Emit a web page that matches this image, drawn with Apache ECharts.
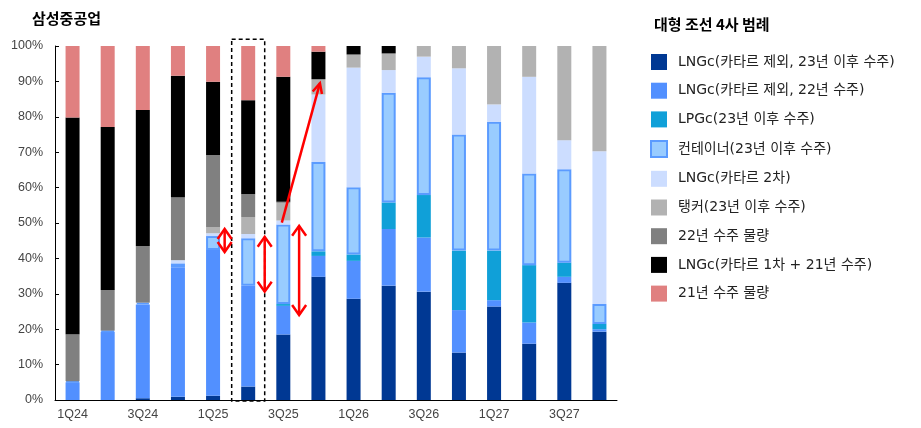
<!DOCTYPE html>
<html><head><meta charset="utf-8">
<script src="https://cdn.jsdelivr.net/npm/echarts@6/dist/echarts.min.js"></script>
<style>html,body{margin:0;padding:0;background:#fff}#c{width:921px;height:428px}</style>
</head><body><div id="c"></div>
<script>
const categories = ['1Q24','2Q24','3Q24','4Q24','1Q25','2Q25','3Q25','4Q25','1Q26','2Q26','3Q26','4Q26','1Q27','2Q27','3Q27','4Q27'];
const yTicks = [0,10,20,30,40,50,60,70,80,90,100];
const seriesNames = ['LNGc(카타르 제외, 23년 이후 수주)','LNGc(카타르 제외, 22년 수주)','LPGc(23년 이후 수주)','컨테이너(23년 이후 수주)','LNGc(카타르 2차)','탱커(23년 이후 수주)','22년 수주 물량','LNGc(카타르 1차 + 21년 수주)','21년 수주 물량'];
const lngEx23 = [0,0,0.5,0.9,1.2,3.8,18.5,34.8,28.6,32.3,30.6,13.4,26.4,15.9,33.1,19.3];
const lngEx22 = [5.0,19.3,26.5,36.6,41.2,28.5,8.1,5.9,10.7,16.0,15.3,12.0,1.8,6.0,1.7,0.7];
const lpg = [0,0,0,0,0,0,0.5,1.3,1.8,7.5,12.0,16.8,14.0,16.2,4.0,1.5];
const container = [0.3,0.3,0.5,1.1,3.9,13.4,22.5,25.2,19.0,31.0,33.3,32.8,36.4,25.9,26.4,5.6];
const qatar2 = [0,0,0,0.9,0.8,1.2,1.1,19.1,33.8,6.4,5.8,18.7,4.9,27.3,8.2,43.2];
const tanker = [0,0,0,0,1.8,4.8,5.0,4.3,3.7,4.7,3.0,6.3,16.5,8.7,26.6,29.7];
const order22 = [13.3,11.5,16.0,17.8,20.3,6.4,0.3,0,0,0,0,0,0,0,0,0];
const qatar1 = [61.2,46.0,38.4,34.3,20.7,26.6,35.3,7.8,2.4,2.1,0,0,0,0,0,0];
const order21 = [20.2,22.9,18.1,8.4,10.1,15.3,8.7,1.6,0,0,0,0,0,0,0,0];

const values = [lngEx23,lngEx22,lpg,container,qatar2,tanker,order22,qatar1,order21];
const colors = ['#003893','#5290FF','#10A0D8','#99CCFF','#CCDDFF','#B2B2B2','#808080','#000000','#E08080'];
const FONT = '"Noto Sans CJK KR", "Noto Sans", sans-serif';
const LFONT = '"DejaVu Sans", "Noto Sans CJK KR", sans-serif';

const series = seriesNames.map((n,i)=>({
  name:n, type:'bar', stack:'s', barWidth:14, data:values[i],
  itemStyle: i===3 ? {color:colors[i], borderColor:'#5B9BFF', borderWidth:2} : {color:colors[i]},
  emphasis:{disabled:true}
}));

const chart = echarts.init(document.getElementById('c'));
chart.setOption({
  animation:false,
  textStyle:{fontFamily:FONT},
  title:[
    {text:'삼성중공업', left:27, top:6, textStyle:{fontSize:15, fontWeight:'bold', color:'#000', fontFamily:FONT}},
    {text:'대형 조선 4사 범례', left:649, top:12, textStyle:{fontSize:15, fontWeight:'bold', color:'#000', fontFamily:FONT}}
  ],
  legend:{
    orient:'vertical', left:645, top:49, itemWidth:16, itemHeight:16, itemGap:12.7, icon:'rect',
    textStyle:{fontSize:14, color:'#222', fontFamily:LFONT, padding:[0,0,0,6]},
    data:seriesNames
  },
  grid:{left:55, right:304, top:46, bottom:28, containLabel:false},
  xAxis:{
    type:'category', data:categories,
    axisLine:{lineStyle:{color:'#000', width:1}},
    axisTick:{inside:true, length:3, interval:1, lineStyle:{color:'#000'}},
    axisLabel:{interval:1, color:'#444', fontSize:12.5, margin:8, fontFamily:'"Liberation Sans", sans-serif'}
  },
  yAxis:{
    type:'value', min:0, max:100, interval:10,
    splitLine:{show:false},
    axisLine:{show:true, lineStyle:{color:'#000', width:1}},
    axisTick:{show:true, inside:true, length:4, lineStyle:{color:'#000'}},
    axisLabel:{formatter:'{value}%', color:'#444', fontSize:12.5, margin:12, fontFamily:'"Liberation Sans", sans-serif'}
  },
  series
});

// annotations tied to data coordinates
function P(i, v){ return chart.convertToPixel({gridIndex:0}, [i, v]); }
const band = P(1,0)[0]-P(0,0)[0];
const red = '#FF0000';
const g = [];
function dbl(x, yTop, yBot){
  g.push({type:'line', shape:{x1:x,y1:yTop,x2:x,y2:yBot}, style:{stroke:red, lineWidth:2.5}});
  g.push({type:'polyline', shape:{points:[[x-7,yTop+10],[x,yTop],[x+7,yTop+10]]}, style:{stroke:red, lineWidth:2.5, fill:null}});
  g.push({type:'polyline', shape:{points:[[x-7,yBot-10],[x,yBot],[x+7,yBot-10]]}, style:{stroke:red, lineWidth:2.5, fill:null}});
}
// dashed box around 2Q25
const c5 = P(5,0)[0];
const bTop = P(5,101.9)[1], bBot = P(5,-0.3)[1];
g.push({type:'rect', shape:{x:c5-0.47*band, y:bTop, width:0.94*band, height:bBot-bTop}, style:{fill:null, stroke:'#000', lineWidth:1.5, lineDash:[4,3]}, z:10});
dbl(P(4,0)[0]+0.33*band, P(4,48.3)[1], P(4,41.8)[1]);
dbl(P(5,0)[0]+0.47*band, P(5,46.1)[1], P(5,30.6)[1]);
dbl(P(6,0)[0]+0.45*band, P(6,49.2)[1], P(6,24.0)[1]);
// diagonal arrow
const s = [P(6,0)[0]-1.5, P(6,50.1)[1]], e = [P(7,0)[0]+1.5, P(7,89.5)[1]];
g.push({type:'line', shape:{x1:s[0],y1:s[1],x2:e[0],y2:e[1]}, style:{stroke:red, lineWidth:2.5}});
const ang = Math.atan2(e[1]-s[1], e[0]-s[0]);
const L = 11, A = 0.45;
g.push({type:'polyline', shape:{points:[[e[0]-L*Math.cos(ang-A), e[1]-L*Math.sin(ang-A)], e, [e[0]-L*Math.cos(ang+A), e[1]-L*Math.sin(ang+A)]]}, style:{stroke:red, lineWidth:2.5, fill:null}});
chart.setOption({graphic:g.map(o=>Object.assign({z:100, silent:true}, o))});
</script></body></html>
